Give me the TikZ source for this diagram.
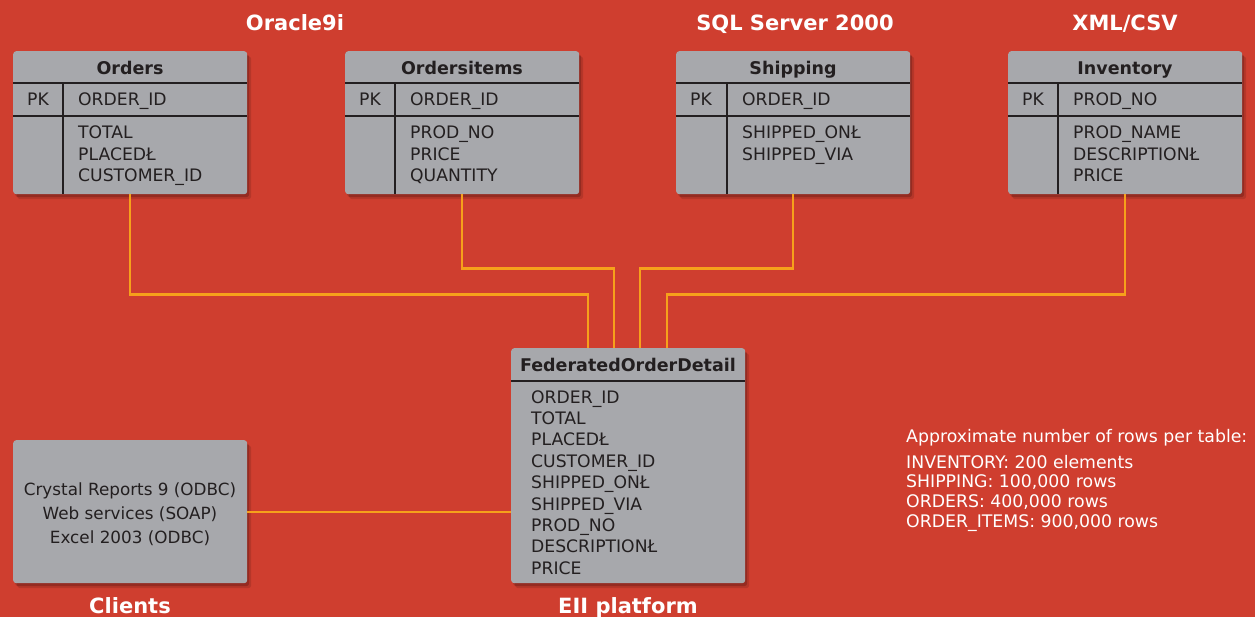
\documentclass[tikz,border=0pt]{standalone}
\usepackage{fontspec}
\setmainfont{DejaVu Sans}
\usetikzlibrary{shadows,calc}
\definecolor{bgred}{HTML}{CF3E2F}
\definecolor{tgray}{HTML}{A7A8AC}
\definecolor{tdark}{HTML}{231F20}
\definecolor{lorange}{HTML}{F6A11B}
\tikzset{
 tbl/.style={fill=tgray, rounded corners=3pt, inner sep=0pt, minimum width=234pt, anchor=north west,
   drop shadow={shadow xshift=2pt, shadow yshift=-3pt, opacity=0.18, fill=black},
   drop shadow={shadow xshift=4pt, shadow yshift=-5pt, opacity=0.12, fill=black}},
 hdr/.style={font=\fontsize{17.5}{20}\selectfont\bfseries, text=tdark, inner sep=0pt, anchor=base},
 fld/.style={font=\fontsize{17.2}{20}\selectfont, text=tdark, inner sep=0pt, anchor=base west},
 pkl/.style={font=\fontsize{17.2}{20}\selectfont, text=tdark, inner sep=0pt, anchor=base},
 cli/.style={font=\fontsize{16.8}{20}\selectfont, text=tdark, inner sep=0pt, anchor=base},
 rulel/.style={draw=tdark, line width=1.2pt},
 conn/.style={draw=lorange, line width=2.3pt},
 ttl/.style={font=\fontsize{21}{24}\selectfont\bfseries, text=white, inner sep=0pt, anchor=base},
 note/.style={font=\fontsize{17.3}{20}\selectfont, text=white, inner sep=0pt, anchor=base west},
}
\begin{document}
\begin{tikzpicture}[x=1pt,y=-1pt]
\useasboundingbox (0,0) rectangle (1255,617);
\fill[bgred] (0,0) rectangle (1255,617);

% titles
\node[ttl] (t-ora) at (295,31) {Oracle9i};
\node[ttl] (t-sql) at (795,31) {SQL Server 2000};
\node[ttl] (t-xml) at (1125,31) {XML/CSV};

% source tables
\node[tbl, minimum height=143pt] (orders) at (13,51) {};
\draw[rulel] (13,83) -- (247,83);
\draw[rulel] (13,116) -- (247,116);
\draw[rulel] (63,83) -- (63,194);
\node[hdr] (orders-t) at (130,74.5) {Orders};
\node[pkl] (orders-pk) at (38,106) {PK};
\node[fld] (orders-k) at (78,106) {ORDER\_ID};
\node[fld] (orders-f1) at (78,139) {TOTAL};
\node[fld] (orders-f2) at (78,160.3) {PLACEDŁ};
\node[fld] (orders-f3) at (78,181.6) {CUSTOMER\_ID};

\node[tbl, minimum height=143pt] (items) at (345,51) {};
\draw[rulel] (345,83) -- (579,83);
\draw[rulel] (345,116) -- (579,116);
\draw[rulel] (395,83) -- (395,194);
\node[hdr] (items-t) at (462,74.5) {Ordersitems};
\node[pkl] (items-pk) at (370,106) {PK};
\node[fld] (items-k) at (410,106) {ORDER\_ID};
\node[fld] (items-f1) at (410,139) {PROD\_NO};
\node[fld] (items-f2) at (410,160.3) {PRICE};
\node[fld] (items-f3) at (410,181.6) {QUANTITY};

\node[tbl, minimum height=143pt] (ship) at (676,51) {};
\draw[rulel] (676,83) -- (910,83);
\draw[rulel] (676,116) -- (910,116);
\draw[rulel] (727,83) -- (727,194);
\node[hdr] (ship-t) at (793,74.5) {Shipping};
\node[pkl] (ship-pk) at (701,106) {PK};
\node[fld] (ship-k) at (742,106) {ORDER\_ID};
\node[fld] (ship-f1) at (742,139) {SHIPPED\_ONŁ};
\node[fld] (ship-f2) at (742,160.3) {SHIPPED\_VIA};

\node[tbl, minimum height=143pt] (inv) at (1008,51) {};
\draw[rulel] (1008,83) -- (1242,83);
\draw[rulel] (1008,116) -- (1242,116);
\draw[rulel] (1058,83) -- (1058,194);
\node[hdr] (inv-t) at (1125,74.5) {Inventory};
\node[pkl] (inv-pk) at (1033,106) {PK};
\node[fld] (inv-k) at (1073,106) {PROD\_NO};
\node[fld] (inv-f1) at (1073,139) {PROD\_NAME};
\node[fld] (inv-f2) at (1073,160.3) {DESCRIPTIONŁ};
\node[fld] (inv-f3) at (1073,181.6) {PRICE};

% federated table
\node[tbl, minimum height=235pt] (fed) at (511,348) {};
\draw[rulel] (511,381) -- (745,381);
\node[hdr] (fed-t) at (628,371.5) {FederatedOrderDetail};
\foreach \f [count=\i] in {ORDER\_ID,TOTAL,PLACEDŁ,CUSTOMER\_ID,SHIPPED\_ONŁ,SHIPPED\_VIA,PROD\_NO,DESCRIPTIONŁ,PRICE}
  {\node[fld] (fed-f\i) at (531,{403+21.4*(\i-1)}) {\f};}

% clients
\node[tbl, minimum height=143pt] (clients) at (13,440) {};
\node[cli] (cli-1) at (130,495) {Crystal Reports 9 (ODBC)};
\node[cli] (cli-2) at (130,519) {Web services (SOAP)};
\node[cli] (cli-3) at (130,543) {Excel 2003 (ODBC)};

\node[ttl] (t-cli) at (130,613) {Clients};
\node[ttl] (t-eii) at (628,613) {EII platform};

% connectors
\draw[conn] (orders.south) -- ++(0,100) -| ([xshift=-40pt]fed.north);
\draw[conn] (items.south) -- ++(0,74) -| ([xshift=-14pt]fed.north);
\draw[conn] (ship.south) -- ++(0,74) -| ([xshift=12pt]fed.north);
\draw[conn] (inv.south) -- ++(0,100) -| ([xshift=39pt]fed.north);
\draw[conn] (clients.east) -- (clients.east -| fed.west);

% note
\node[note] (n0) at (906,442) {Approximate number of rows per table:};
\node[note] (n1) at (906,468) {INVENTORY: 200 elements};
\node[note] (n2) at (906,487.5) {SHIPPING: 100,000 rows};
\node[note] (n3) at (906,507) {ORDERS: 400,000 rows};
\node[note] (n4) at (906,527) {ORDER\_ITEMS: 900,000 rows};
\end{tikzpicture}
\end{document}
